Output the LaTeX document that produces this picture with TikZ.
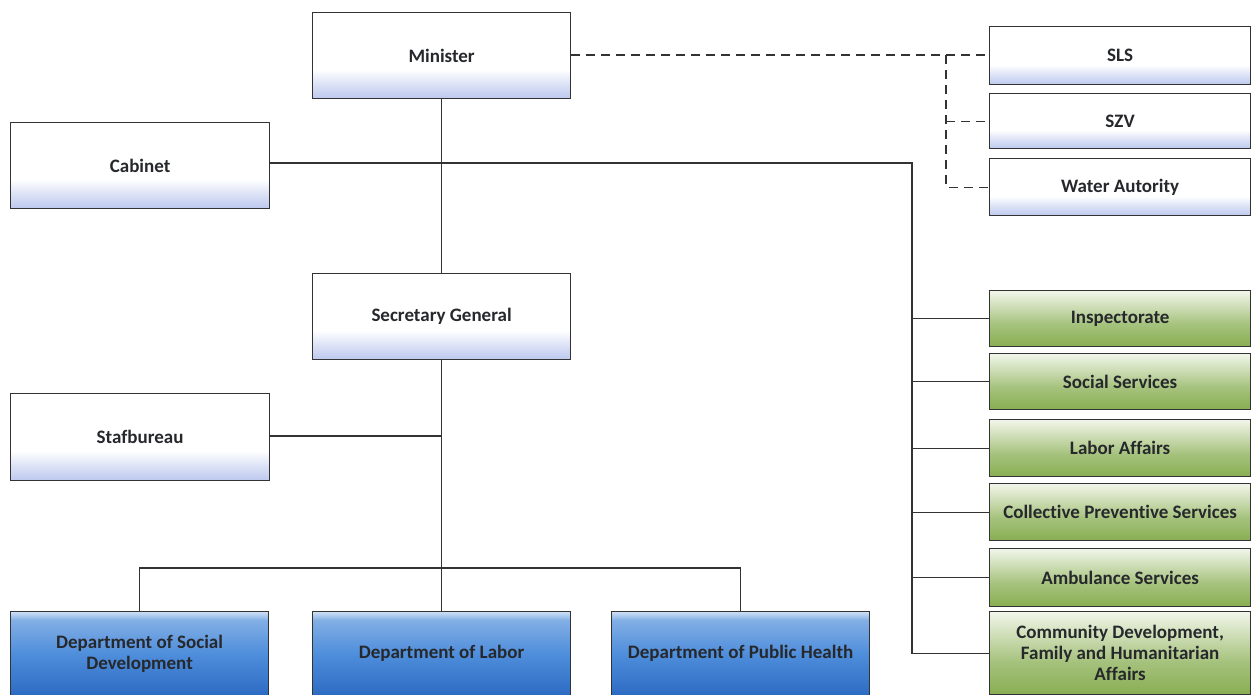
\documentclass[tikz,border=0pt]{standalone}
\usepackage{fontspec}
\setmainfont{Carlito}[Ligatures=NoCommon]
\usetikzlibrary{calc}
\definecolor{txt}{HTML}{26282C}
\definecolor{lav}{HTML}{BCC8EE}
\definecolor{grn}{HTML}{88AE52}
\definecolor{grnl}{HTML}{F2F6EA}
\definecolor{blul}{HTML}{CFE0F5}
\definecolor{blum}{HTML}{4F8EDB}
\definecolor{blud}{HTML}{2C6BC2}
\definecolor{ln}{HTML}{333333}
\pgfdeclareverticalshading{wsh}{100bp}{color(0bp)=(lav); color(25bp)=(lav); color(33bp)=(lav!55); color(42bp)=(white); color(100bp)=(white)}
\pgfdeclareverticalshading{gsh}{100bp}{color(0bp)=(grn); color(25bp)=(grn); color(45bp)=(grn!75!white); color(75bp)=(grnl); color(100bp)=(grnl)}
\pgfdeclareverticalshading{bsh}{100bp}{color(0bp)=(blud); color(25bp)=(blud); color(50bp)=(blum); color(70bp)=(blum!60!blul); color(75bp)=(blul); color(100bp)=(blul)}
\tikzset{
  box/.style={draw=ln, line width=1.2pt, rectangle, anchor=north west, inner sep=2pt,
    font=\bfseries\fontsize{19}{21}\selectfont, text=txt, align=center},
  wbox/.style={box, shading=wsh},
  gbox/.style={box, shading=gsh, minimum width=261pt},
  bbox/.style={box, shading=bsh, minimum width=258pt, minimum height=84pt},
  conn/.style={draw=ln, line width=1.2pt},
  dconn/.style={draw=ln, line width=1.2pt, dash pattern=on 9pt off 6pt},
}
\begin{document}
\begin{tikzpicture}[x=1pt,y=-1pt]
\useasboundingbox (0,0) rectangle (1252,694);
% left column
\node[wbox, minimum width=258pt, minimum height=86pt] (min) at (312,12) {Minister};
\node[wbox, minimum width=259pt, minimum height=86pt] (cab) at (10,122) {Cabinet};
\node[wbox, minimum width=258pt, minimum height=86pt] (sg) at (312,273) {Secretary General};
\node[wbox, minimum width=259pt, minimum height=87pt] (staf) at (10,393) {Stafbureau};
% departments
\node[bbox] (dsd) at (10,611) {Department of Social\\Development};
\node[bbox] (dl) at (312,611) {Department of Labor};
\node[bbox] (dph) at (611,611) {Department of Public Health};
% right top
\node[wbox, minimum width=261pt, minimum height=58pt] (sls) at (989,26) {SLS};
\node[wbox, minimum width=261pt, minimum height=55pt] (szv) at (989,93) {SZV};
\node[wbox, minimum width=261pt, minimum height=57pt] (wa) at (989,158) {Water Autority};
% green
\node[gbox, minimum height=56pt] (insp) at (989,290) {Inspectorate};
\node[gbox, minimum height=56pt] (ss) at (989,353) {Social Services};
\node[gbox, minimum height=57pt] (la) at (989,419) {Labor Affairs};
\node[gbox, minimum height=57pt] (cps) at (989,483) {Collective Preventive Services};
\node[gbox, minimum height=58pt] (amb) at (989,548) {Ambulance Services};
\node[gbox, minimum height=83pt] (cd) at (989,611) {Community Development,\\Family and Humanitarian\\Affairs};
% connectors
\coordinate (jd) at (946,55);
\coordinate (jc) at (912,163);
\coordinate (js) at (441,436);
\coordinate (jb) at (441,568);
\path[dconn] (min.east |- jd) -- (sls.west |- jd);
\path[dconn] (jd) |- (wa.west);
\path[dconn] (jd |- szv.west) -- (szv.west);
\path[conn] (min.south) -- (sg.north);
\path[conn] (cab.east |- jc) -- (jc) |- (cd.west);
\path[conn] (jc |- insp.west) -- (insp.west);
\path[conn] (jc |- ss.west) -- (ss.west);
\path[conn] (jc |- la.west) -- (la.west);
\path[conn] (jc |- cps.west) -- (cps.west);
\path[conn] (jc |- amb.west) -- (amb.west);
\path[conn] (sg.south) -- (dl.north);
\path[conn] (staf.east |- js) -- (js);
\path[conn] (dsd.north) |- (jb) -| (dph.north);
\end{tikzpicture}
\end{document}
